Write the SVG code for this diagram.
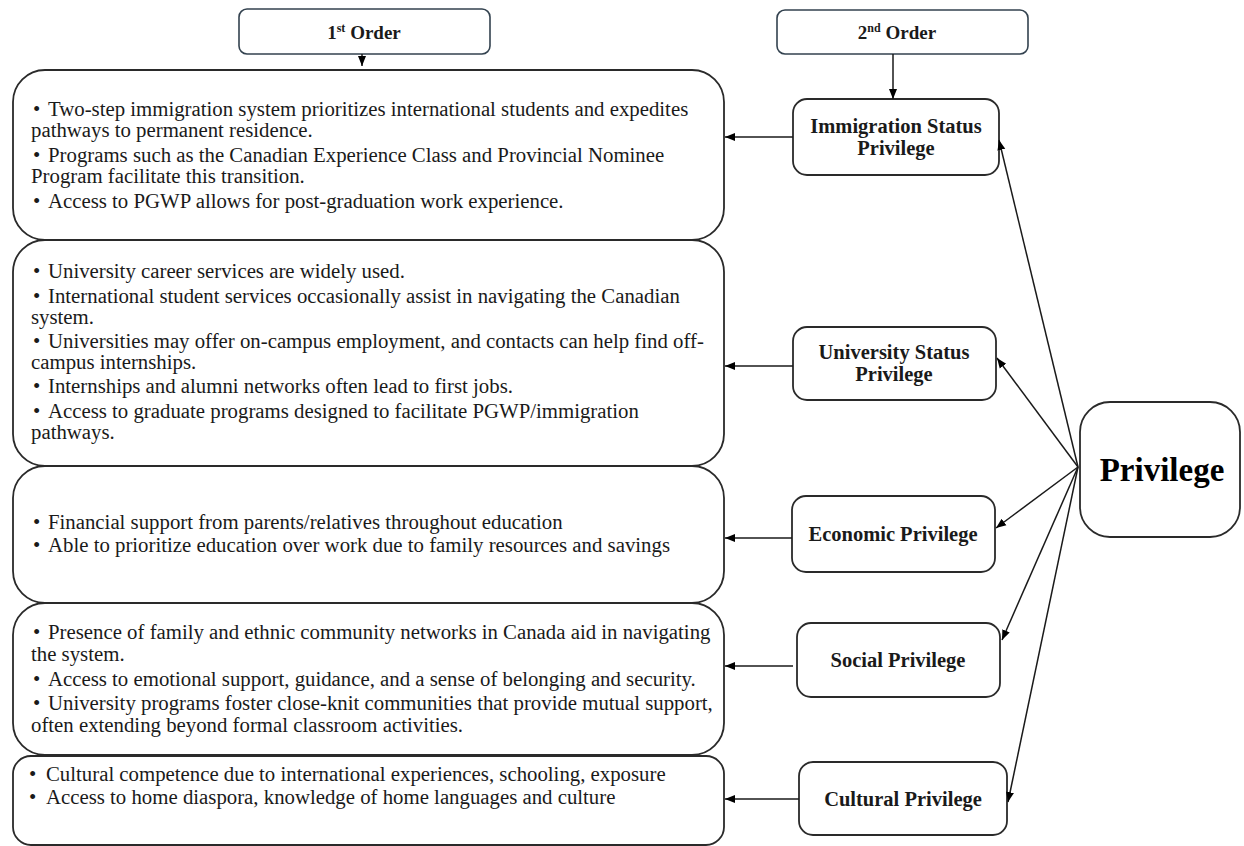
<svg xmlns="http://www.w3.org/2000/svg" width="1244" height="846" viewBox="0 0 1244 846">
<style>
.hdr{fill:#fff;stroke:#33424f;stroke-width:1.6}
.box{fill:#fff;stroke:#2a2a2a;stroke-width:1.8}
.t{font-family:"Liberation Serif","Times New Roman",serif;font-size:20.8px;fill:#1a1a1a}
.b{font-family:"Liberation Serif","Times New Roman",serif;font-size:20.5px;font-weight:bold;fill:#1a1a1a;text-anchor:middle}
.h{font-family:"Liberation Serif","Times New Roman",serif;font-size:19px;font-weight:bold;fill:#1a1a1a;text-anchor:middle}
.big{font-family:"Liberation Serif","Times New Roman",serif;font-size:33px;font-weight:bold;fill:#000;text-anchor:middle}
.c{stroke:#1a1a1a;stroke-width:1.5;fill:none;marker-end:url(#ah)}
</style>
<defs>
<marker id="ah" viewBox="0 0 10 10" refX="10" refY="5" markerWidth="10" markerHeight="10" markerUnits="userSpaceOnUse" orient="auto">
<path d="M0,1 L10,5 L0,9 Z" fill="#000"/>
</marker>
</defs>
<rect width="1244" height="846" fill="#fff"/>

<g id="first-order">
<rect class="hdr" x="239" y="9" width="251" height="45" rx="8"/>
<text class="h" x="364" y="39">1<tspan font-size="12" dy="-7">st</tspan><tspan dy="7"> Order</tspan></text>
</g>
<g id="second-order">
<rect class="hdr" x="777" y="10" width="251" height="44" rx="8"/>
<text class="h" x="897" y="39">2<tspan font-size="12" dy="-7">nd</tspan><tspan dy="7"> Order</tspan></text>
</g>

<g id="box-immigration-details">
<rect class="box" x="13" y="70" width="711" height="170" rx="32"/>
<text class="t"><tspan x="33" y="116">•</tspan><tspan x="48" y="116">Two-step immigration system prioritizes international students and expedites</tspan><tspan x="31" y="137">pathways to permanent residence.</tspan><tspan x="33" y="162">•</tspan><tspan x="48" y="162">Programs such as the Canadian Experience Class and Provincial Nominee</tspan><tspan x="31" y="183">Program facilitate this transition.</tspan><tspan x="33" y="208">•</tspan><tspan x="48" y="208">Access to PGWP allows for post-graduation work experience.</tspan></text>
</g>

<g id="box-university-details">
<rect class="box" x="13" y="240" width="711" height="226" rx="32"/>
<text class="t"><tspan x="33" y="278">•</tspan><tspan x="48" y="278">University career services are widely used.</tspan><tspan x="33" y="303">•</tspan><tspan x="48" y="303">International student services occasionally assist in navigating the Canadian</tspan><tspan x="31" y="324">system.</tspan><tspan x="33" y="348">•</tspan><tspan x="48" y="348">Universities may offer on-campus employment, and contacts can help find off-</tspan><tspan x="31" y="369">campus internships.</tspan><tspan x="33" y="393">•</tspan><tspan x="48" y="393">Internships and alumni networks often lead to first jobs.</tspan><tspan x="33" y="418">•</tspan><tspan x="48" y="418">Access to graduate programs designed to facilitate PGWP/immigration</tspan><tspan x="31" y="439">pathways.</tspan></text>
</g>

<g id="box-economic-details">
<rect class="box" x="13" y="466" width="711" height="137" rx="32"/>
<text class="t"><tspan x="33" y="529">•</tspan><tspan x="48" y="529">Financial support from parents/relatives throughout education</tspan><tspan x="33" y="552">•</tspan><tspan x="48" y="552">Able to prioritize education over work due to family resources and savings</tspan></text>
</g>

<g id="box-social-details">
<rect class="box" x="13" y="603" width="711" height="152" rx="32"/>
<text class="t"><tspan x="33" y="639">•</tspan><tspan x="48" y="639">Presence of family and ethnic community networks in Canada aid in navigating</tspan><tspan x="31" y="661">the system.</tspan><tspan x="33" y="686">•</tspan><tspan x="48" y="686">Access to emotional support, guidance, and a sense of belonging and security.</tspan><tspan x="33" y="710">•</tspan><tspan x="48" y="710">University programs foster close-knit communities that provide mutual support,</tspan><tspan x="31" y="732">often extending beyond formal classroom activities.</tspan></text>
</g>

<g id="box-cultural-details">
<rect class="box" x="13" y="756" width="711" height="89" rx="18"/>
<text class="t"><tspan x="29" y="781">•</tspan><tspan x="46" y="781">Cultural competence due to international experiences, schooling, exposure</tspan><tspan x="29" y="804">•</tspan><tspan x="46" y="804">Access to home diaspora, knowledge of home languages and culture</tspan></text>
</g>

<g id="immigration-status-privilege">
<rect class="box" x="793" y="99" width="206" height="76" rx="14"/>
<text class="b"><tspan x="896" y="133">Immigration Status</tspan><tspan x="896" y="155">Privilege</tspan></text>
</g>
<g id="university-status-privilege">
<rect class="box" x="793" y="327" width="203" height="73" rx="14"/>
<text class="b"><tspan x="894" y="359">University Status</tspan><tspan x="894" y="381">Privilege</tspan></text>
</g>
<g id="economic-privilege">
<rect class="box" x="792" y="496" width="203" height="76" rx="14"/>
<text class="b" x="893" y="541">Economic Privilege</text>
</g>
<g id="social-privilege">
<rect class="box" x="797" y="623" width="203" height="74" rx="14"/>
<text class="b" x="898" y="667">Social Privilege</text>
</g>
<g id="cultural-privilege">
<rect class="box" x="799" y="762" width="208" height="73" rx="14"/>
<text class="b" x="903" y="806">Cultural Privilege</text>
</g>
<g id="privilege">
<rect class="box" x="1080" y="402" width="160" height="135" rx="30"/>
<text class="big" x="1162" y="481">Privilege</text>
</g>

<g id="connectors">
<path class="c" d="M362,54 L362,66"/>
<path class="c" d="M893,54 L893,99"/>
<path class="c" d="M793,137 L725,137"/>
<path class="c" d="M793,366 L725,366"/>
<path class="c" d="M792,538 L725,538"/>
<path class="c" d="M793,666 L725,666"/>
<path class="c" d="M799,799 L725,799"/>
<path class="c" d="M1078,467 L999,140"/>
<path class="c" d="M1078,467 L997,358"/>
<path class="c" d="M1078,467 L996,528"/>
<path class="c" d="M1078,467 L1002,640"/>
<path class="c" d="M1078,467 L1008,802"/>
</g>
</svg>
